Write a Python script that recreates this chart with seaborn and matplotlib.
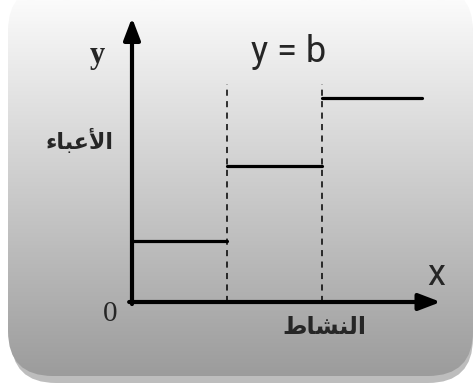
import numpy as np
import pandas as pd
import matplotlib
matplotlib.use('Agg')
import matplotlib.pyplot as plt
from matplotlib.patches import FancyBboxPatch
import seaborn as sns

# step cost function: fixed cost level changes at each activity break
seg_start = [0.0, 1.0, 2.0]
seg_end = [1.0, 2.0, 3.05]
seg_level = [0.9, 2.0, 3.0]
breaks = [1.0, 2.0]

# Arabic labels, written in presentation forms (visual order) since matplotlib does no shaping
label_cost = '\ufe80\ufe8e\ufe92\ufecb\ufef7\ufe8d'      # الأعباء
label_activity = '\ufec1\ufe8e\ufeb8\ufee8\ufedf\ufe8d'  # النشاط

steps = pd.DataFrame({
    'x': seg_start + seg_end,
    'y': seg_level + seg_level,
    'seg': list(range(3)) + list(range(3)),
})

sns.set_theme(style='white')
fig = plt.figure(figsize=(4.75, 3.87), dpi=100)
ax = fig.add_axes([0, 0, 1, 1])
xlim = (-132 / 95, 343 / 95)
ylim = (-85 / 68, 302 / 68)

# panel with shadow and vertical gradient
shadow = FancyBboxPatch((0.11, 0.04), 4.62, 3.9, boxstyle='round,pad=0,rounding_size=0.45',
                        transform=fig.dpi_scale_trans, facecolor='#bdbdbd', edgecolor='none', zorder=0)
ax.add_patch(shadow)
panel = FancyBboxPatch((0.08, 0.11), 4.65, 3.9, boxstyle='round,pad=0,rounding_size=0.45',
                       transform=fig.dpi_scale_trans, facecolor='none', edgecolor='none', zorder=1)
ax.add_patch(panel)
grad = np.linspace(0, 1, 256).reshape(-1, 1)
img = ax.imshow(grad, extent=[*xlim, *ylim], aspect='auto', origin='lower',
                cmap=matplotlib.colors.LinearSegmentedColormap.from_list('g', ['#999999', '#fbfbfb']),
                zorder=1)
img.set_clip_path(panel)

# dashed break lines
ax.vlines(breaks, 0, 3.2, colors='black', linestyles=(0, (4, 3.5)), linewidth=1.1, zorder=3)

# steps
sns.lineplot(data=steps, x='x', y='y', units='seg', estimator=None, color='black',
             linewidth=2.3, legend=False, ax=ax, zorder=4)
ax.set_xlim(*xlim)
ax.set_ylim(*ylim)
ax.axis('off')

# axes with arrows
arrow = dict(arrowstyle='-|>,head_length=1.1,head_width=0.42', color='black', linewidth=3,
             shrinkA=0, shrinkB=0)
ax.annotate('', xy=(3.25, 0), xytext=(-0.03, 0), arrowprops=arrow, zorder=5)
ax.annotate('', xy=(0, 4.18), xytext=(0, -0.03), arrowprops=arrow, zorder=5)

narrow = ['Liberation Sans Narrow', 'Roboto']
ax.text(-0.36, 3.63, 'y', fontsize=22, fontweight='bold', family='Liberation Serif',
        ha='center', va='center', zorder=6)
ax.text(-0.23, -0.17, '0', fontsize=21, family='Liberation Serif', ha='center', va='center', zorder=6)
ax.text(1.65, 3.68, 'y = b', fontsize=26, family=narrow,
        ha='center', va='center', zorder=6)
ax.text(3.2, 0.4, 'x', fontsize=26, family=narrow,
        ha='center', va='center', zorder=6)
ax.text(-0.55, 2.38, label_cost, fontsize=16, fontweight='bold', family='DejaVu Sans',
        ha='center', va='center', zorder=6)
ax.text(2.03, -0.37, label_activity, fontsize=17, fontweight='bold', family='DejaVu Sans',
        ha='center', va='center', zorder=6)

fig.savefig('out.png', dpi=100)
